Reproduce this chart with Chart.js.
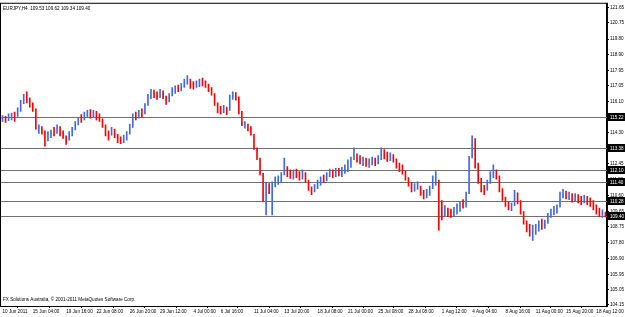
<!DOCTYPE html>
<html>
<head>
<meta charset="utf-8">
<script src="https://cdn.jsdelivr.net/npm/chart.js@4"></script>
<style>
  body { margin: 0; background: #fff; }
  #wrap { width: 625px; height: 317px; }
</style>
</head>
<body>
<div id="wrap"><canvas id="myChart"></canvas></div>
<script>
// EURJPY H4 bars, [low, high], plus direction (1 = up / blue, 0 = down / red)
var ranges = [
  [114.95,115.30],[114.90,115.25],[115.00,115.40],[115.05,115.45],[114.95,115.50],
  [115.25,115.75],[115.55,116.20],[116.00,116.55],[116.05,116.70],[115.80,116.35],
  [115.55,116.05],[114.50,115.70],[114.25,114.75],[114.20,114.65],[113.50,114.40],
  [113.80,114.35],[114.00,114.45],[114.10,114.60],[114.25,114.75],[114.10,114.65],
  [113.95,114.40],[113.60,114.10],[113.85,114.35],[114.10,114.60],[114.45,114.95],
  [114.75,115.20],[114.90,115.35],[115.05,115.50],[115.20,115.60],[115.15,115.65],
  [115.20,115.60],[115.05,115.55],[114.95,115.40],[114.60,115.10],[114.10,114.75],
  [113.85,114.40],[114.15,114.60],[114.00,114.50],[113.70,114.20],[113.65,114.05],
  [113.70,114.15],[113.85,114.35],[114.20,114.80],[114.60,115.40],[115.05,115.50],
  [115.15,115.60],[115.20,115.70],[115.40,116.00],[115.90,116.55],[116.30,116.85],
  [116.35,116.80],[116.25,116.70],[116.35,116.85],[116.30,116.75],[115.95,116.45],
  [116.10,116.60],[116.45,116.95],[116.60,117.05],[116.70,117.10],[116.75,117.20],
  [116.95,117.45],[117.15,117.65],[116.90,117.45],[116.85,117.30],[116.95,117.35],
  [117.00,117.45],[117.05,117.50],[116.95,117.35],[116.70,117.15],[116.50,116.95],
  [115.90,116.60],[115.45,116.05],[115.40,115.85],[115.45,115.90],[115.35,115.80],
  [115.60,116.50],[116.25,116.70],[116.20,116.65],[115.40,116.40],[114.70,115.55],
  [114.55,114.95],[114.40,114.80],[114.15,114.65],[113.30,114.20],[112.70,113.40],
  [111.80,112.80],[110.25,111.90],[109.45,111.35],[110.70,111.30],[109.45,111.40],
  [111.10,111.70],[111.25,111.75],[111.40,111.95],[111.80,112.80],[111.70,112.30],
  [111.60,112.10],[111.55,112.10],[111.65,112.15],[111.50,112.00],[111.55,112.10],
  [111.40,111.95],[110.90,111.50],[110.65,111.10],[110.80,111.25],[111.00,111.50],
  [111.20,111.70],[111.35,111.80],[111.45,111.95],[111.70,112.15],[111.65,112.10],
  [111.70,112.20],[111.75,112.20],[111.70,112.25],[111.90,112.40],[112.00,112.70],
  [112.25,112.85],[112.70,113.40],[112.55,113.05],[112.45,112.95],[112.35,112.85],
  [112.30,112.80],[112.25,112.75],[112.40,112.85],[112.35,112.80],[112.45,112.95],
  [112.70,113.40],[112.75,113.30],[112.60,113.15],[112.65,113.10],[112.55,113.00],
  [112.20,112.75],[112.00,112.50],[111.85,112.40],[111.50,112.05],[111.15,111.65],
  [110.80,111.35],[110.85,111.30],[110.95,111.40],[110.60,111.15],[110.40,110.90],
  [110.45,110.95],[110.60,111.15],[111.00,111.75],[111.20,112.00],[108.55,111.50],
  [109.15,110.30],[109.40,110.00],[109.35,109.85],[109.30,109.80],[109.35,109.90],
  [109.50,110.10],[109.65,110.20],[109.85,110.35],[109.90,110.80],[110.70,112.90],
  [112.80,114.10],[112.20,113.95],[111.30,112.50],[110.80,111.60],[110.65,111.20],
  [110.90,111.50],[111.30,112.00],[111.65,112.40],[111.55,112.10],[110.80,111.75],
  [110.30,111.00],[109.95,110.50],[109.75,110.20],[109.70,110.15],[110.00,110.90],
  [110.10,110.75],[109.50,110.30],[108.90,109.65],[108.45,109.10],[108.20,108.90],
  [107.95,108.85],[108.30,108.90],[108.50,109.10],[108.60,109.20],[108.65,109.15],
  [108.95,109.55],[109.30,109.80],[109.45,109.95],[109.55,110.05],[109.90,110.80],
  [110.45,110.95],[110.40,110.85],[110.35,110.80],[110.20,110.70],[110.25,110.70],
  [110.15,110.65],[110.05,110.55],[110.15,110.60],[110.05,110.55],[109.95,110.45],
  [109.75,110.30],[109.50,110.05],[109.35,109.85],[109.30,109.75],[109.34,109.62]
];
var dirs = [
  1,0,1,1,0, 1,1,1,0,0,
  0,0,1,0,0, 1,1,0,1,0,
  0,0,1,1,1, 1,0,1,1,0,
  1,0,0,0,0, 0,1,0,0,0,
  1,1,1,1,0, 1,0,1,1,1,
  0,0,1,0,0, 1,1,1,0,1,
  1,1,0,0,1, 1,0,0,0,0,
  0,0,0,1,0, 1,1,0,0,0,
  1,0,0,0,0, 0,0,1,0,1,
  1,1,1,1,0, 0,1,0,0,1,
  0,0,0,1,1, 1,0,1,1,0,
  1,0,1,1,1, 1,1,0,0,1,
  0,1,1,0,1, 1,0,0,1,0,
  0,0,0,0,0, 0,1,1,0,0,
  1,1,1,1,0, 0,1,0,0,1,
  1,1,0,1,1, 1,0,0,0,0,
  1,1,1,0,0, 0,0,0,1,1,
  0,0,0,0,0, 1,1,1,0,1,
  1,1,1,1,1, 1,0,1,0,1,
  0,0,1,0,0, 0,0,0,1,0
];

// time labels along the bottom and the bar they sit on
var timeLabels = ["10 Jun 2011", "15 Jun 04:00", "19 Jun 16:00", "22 Jun 08:00", "26 Jun 20:00",
  "29 Jun 12:00", "4 Jul 00:00", "6 Jul 16:00", "11 Jul 04:00", "13 Jul 20:00",
  "18 Jul 08:00", "21 Jul 00:00", "25 Jul 08:00", "28 Jul 08:00", "1 Aug 12:00",
  "4 Aug 04:00", "8 Aug 16:00", "11 Aug 00:00", "15 Aug 20:00", "18 Aug 12:00"];
var timeBars = [0, 10, 21, 31, 42, 52, 63, 72, 83, 93, 104, 114, 124, 134, 145, 155, 166, 176, 186, 196];

// price scale ticks
var priceTicks = [121.65, 120.75, 119.80, 118.90, 117.95, 117.05, 116.10, 115.20, 114.30, 113.35,
  112.45, 111.50, 110.60, 109.65, 108.75, 107.80, 106.90, 105.95, 105.05, 104.15];

// horizontal lines drawn on the chart
var levels = [115.22, 113.38, 112.10, 111.40, 110.28, 109.40];

var headerText = "EURJPY,H4  109.53 109.62 109.34 109.40";
var footerText = "FX Solutions Australia, \u00a9 2001-2011 MetaQuotes Software Corp.";

var UP = "rgb(65,105,225)";
var DOWN = "rgb(255,0,0)";
var FONT = "'Liberation Sans', Arial, sans-serif";

var labels = [];
for (var i = 0; i < ranges.length; i++) labels.push("");
for (var j = 0; j < timeBars.length; j++) labels[timeBars[j]] = timeLabels[j];

var colors = dirs.map(function (d) { return d ? UP : DOWN; });

// levels, frame and the two corner texts
var overlay = {
  id: "overlay",
  beforeDatasetsDraw: function (chart) {
    var ctx = chart.ctx, a = chart.chartArea, y = chart.scales.y;
    ctx.save();
    ctx.strokeStyle = "#707070";
    ctx.lineWidth = 1;
    levels.forEach(function (v) {
      var py = Math.round(y.getPixelForValue(v)) + 0.5;
      ctx.beginPath();
      ctx.moveTo(a.left, py);
      ctx.lineTo(a.right, py);
      ctx.stroke();
    });
    ctx.restore();
  },
  afterDraw: function (chart) {
    var ctx = chart.ctx, a = chart.chartArea, y = chart.scales.y;
    ctx.save();
    ctx.strokeStyle = "#000";
    ctx.lineWidth = 1;
    ctx.strokeRect(a.left - 0.5, a.top - 0.5, a.right - a.left + 1, a.bottom - a.top + 1);

    ctx.font = "4.6px " + FONT;
    ctx.fillStyle = "#000";
    ctx.textBaseline = "middle";
    ctx.textAlign = "left";
    ctx.fillText(headerText, a.left + 2, a.top + 5);
    ctx.fillText(footerText, a.left + 2, a.bottom - 6);

    // price boxes on the axis
    levels.forEach(function (v) {
      var py = Math.round(y.getPixelForValue(v));
      ctx.fillStyle = "#000";
      ctx.fillRect(a.right + 1, py - 4, 17, 8);
      ctx.fillStyle = "#fff";
      ctx.fillText(v.toFixed(2), a.right + 3, py + 0.5);
    });
    ctx.restore();
  }
};

new Chart(document.getElementById("myChart"), {
  type: "bar",
  data: {
    labels: labels,
    datasets: [{
      data: ranges,
      backgroundColor: colors,
      barThickness: 1,
      borderWidth: 0
    }]
  },
  options: {
    responsive: true,
    maintainAspectRatio: false,
    animation: false,
    devicePixelRatio: 1,
    layout: { padding: { left: 1, top: 1, right: 0, bottom: 0 } },
    plugins: { legend: { display: false }, tooltip: { enabled: false } },
    scales: {
      x: {
        grid: { drawOnChartArea: false, drawTicks: true, tickLength: 2, color: "#000" },
        border: { color: "#000" },
        ticks: {
          autoSkip: false,
          maxRotation: 0,
          align: "start",
          padding: 1,
          color: "#000",
          font: { family: FONT, size: 4.6 },
          callback: function (v, i) { return labels[i] ? labels[i] : null; }
        },
        afterFit: function (s) { s.height = 11; }
      },
      y: {
        position: "right",
        min: 104.09,
        max: 121.88,
        grid: { drawOnChartArea: false, drawTicks: true, tickLength: 2, color: "#000" },
        border: { color: "#000" },
        afterBuildTicks: function (s) {
          s.ticks = priceTicks.map(function (v) { return { value: v }; });
        },
        ticks: {
          padding: 1,
          color: "#000",
          font: { family: FONT, size: 4.6 },
          callback: function (v) { return Number(v).toFixed(2); }
        },
        afterFit: function (s) { s.width = 18; }
      }
    }
  },
  plugins: [overlay]
});
</script>
</body>
</html>
